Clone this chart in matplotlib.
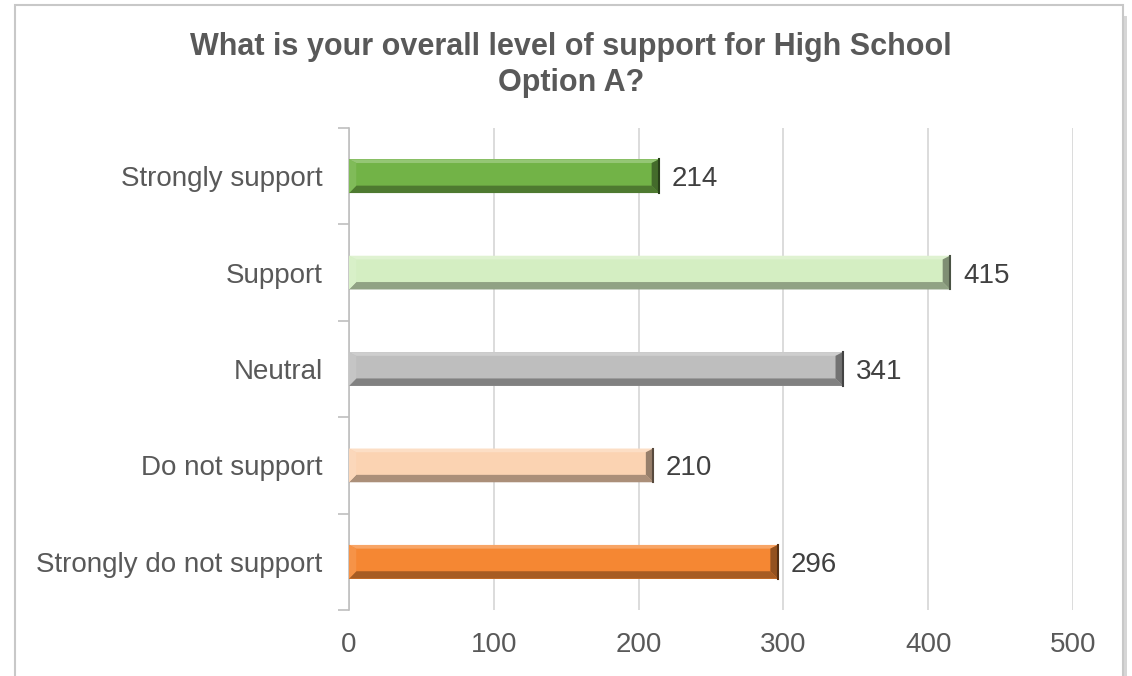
import matplotlib.pyplot as plt
import numpy as np
from matplotlib.patches import Polygon, Rectangle
from matplotlib.colors import to_rgb

categories = ["Strongly support", "Support", "Neutral", "Do not support",
              "Strongly do not support"]
counts = [214, 415, 341, 210, 296]
bar_colors = ["#72B347", "#D4EEC2", "#BEBEBE", "#FBD3B2", "#F58733"]
x_ticks = [0, 100, 200, 300, 400, 500]

plt.rcParams["font.family"] = ["Liberation Sans", "DejaVu Sans"]

TEXT = "#595959"


def shade(color, f):
    r, g, b = to_rgb(color)
    if f < 1:
        return (r * f, g * f, b * f)
    f = f - 1
    return (r + (1 - r) * f, g + (1 - g) * f, b + (1 - b) * f)


def bevel_bar(ax, y, w, h, color, bx=5.0, by_frac=0.22):
    y0, y1 = y - h / 2, y + h / 2  # inverted axis: y0 is top on screen
    by = h * by_frac
    # base face
    ax.add_patch(Rectangle((0, y0), w, h, facecolor=color, edgecolor="none", zorder=3))
    # top facet (light)
    ax.add_patch(Polygon([(0, y0), (w, y0), (w - bx, y0 + by * 0.5), (bx, y0 + by * 0.5)],
                         closed=True, facecolor=shade(color, 1.25), edgecolor="none", zorder=4))
    # bottom facet (dark)
    ax.add_patch(Polygon([(0, y1), (w, y1), (w - bx, y1 - by), (bx, y1 - by)],
                         closed=True, facecolor=shade(color, 0.68), edgecolor="none", zorder=4))
    # left facet
    ax.add_patch(Polygon([(0, y0), (bx, y0 + by * 0.5), (bx, y1 - by), (0, y1)],
                         closed=True, facecolor=shade(color, 1.1), edgecolor="none", zorder=4))
    # right facet (darkest)
    ax.add_patch(Polygon([(w, y0), (w - bx, y0 + by * 0.5), (w - bx, y1 - by), (w, y1)],
                         closed=True, facecolor=shade(color, 0.6), edgecolor="none", zorder=4))
    ax.plot([w, w], [y0, y1], color=shade(color, 0.35), lw=1.5, zorder=5)


fig = plt.figure(figsize=(11.32, 6.76), dpi=100)
fig.patch.set_facecolor("white")

# outer chart frame with a light shadow on the right
fig.add_artist(Rectangle((15 / 1132, -0.01), 1108 / 1132, 1 - 5 / 676 + 0.01,
                         transform=fig.transFigure, facecolor="none",
                         edgecolor="#C8C8C8", lw=1.5))
fig.add_artist(Rectangle((1124 / 1132, -0.01), 3 / 1132, 1 - 9 / 676,
                         transform=fig.transFigure, facecolor="#D6D6D6",
                         edgecolor="none"))

ax = fig.add_axes([349 / 1132, 1 - 610 / 676, (1073 - 349) / 1132, (610 - 128) / 676])
ypos = np.arange(len(categories))
for yp, v, c in zip(ypos, counts, bar_colors):
    bevel_bar(ax, yp, v, 0.35, c)
    ax.text(v + 9, yp, str(v), va="center_baseline", ha="left", fontsize=20,
            color="#404040")

ax.set_xlim(0, 500)
ax.set_ylim(len(categories) - 0.5, -0.5)
ax.set_xticks(x_ticks)
ax.set_xticklabels([str(t) for t in x_ticks], fontsize=20, color=TEXT)
ax.set_yticks(ypos)
ax.set_yticklabels(categories, fontsize=20, color=TEXT)
ax.set_yticks(np.arange(-0.5, len(categories)), minor=True)
ax.tick_params(axis="y", which="major", length=0, pad=19)
ax.tick_params(axis="y", which="minor", length=8, color="#BFBFBF", width=1.2)
ax.tick_params(axis="x", length=0, pad=16)
ax.grid(axis="x", color="#D9D9D9", lw=1.3, zorder=0)
ax.set_axisbelow(True)
for s in ["top", "right", "bottom"]:
    ax.spines[s].set_visible(False)
ax.spines["left"].set_color("#BFBFBF")
ax.spines["left"].set_linewidth(1.2)

fig.text(571 / 1132, 1 - 65 / 676,
         "What is your overall level of support for High School\nOption A?",
         ha="center", va="center", fontsize=22, fontweight="bold", color=TEXT,
         linespacing=1.25)

fig.savefig("out.png", dpi=100)
